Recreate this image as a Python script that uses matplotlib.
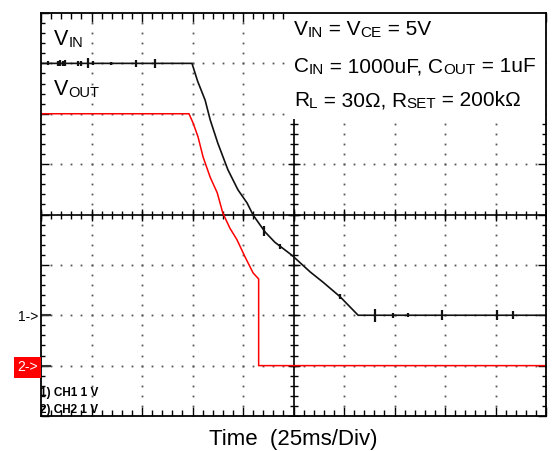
import numpy as np
import matplotlib
matplotlib.use('Agg')
import matplotlib.pyplot as plt
from matplotlib.patches import Rectangle

plt.rcParams['font.family'] = ['Liberation Sans', 'DejaVu Sans']

# 通道 1: VIN (1V/Div), 时间单位 = Div (25ms/Div)
vin_t = [0, 2.99, 3.10, 3.25, 3.35, 3.50, 3.70, 3.90, 4.08, 4.20, 4.34, 4.44,
         4.63, 4.97, 5.33, 5.58, 5.92, 6.28, 10]
vin_v = [5.0, 5.0, 4.65, 4.27, 3.88, 3.42, 2.89, 2.49, 2.23, 1.99, 1.79, 1.65,
         1.45, 1.19, 0.86, 0.66, 0.37, 0.0, 0.0]

# 通道 2: VOUT
vout_t = [0, 2.93, 3.01, 3.11, 3.21, 3.35, 3.49, 3.60, 3.74, 3.88, 4.04, 4.20,
          4.31, 4.31, 10]
vout_v = [5.0, 5.0, 4.82, 4.54, 4.14, 3.74, 3.43, 3.03, 2.73, 2.50, 2.16, 1.84,
          1.72, 0.0, 0.0]

# 毛刺 (时间, 半幅值 V)
vin_glitch_t = [0.14, 0.34, 0.38, 0.44, 0.48, 0.73, 0.79, 0.93, 1.03, 1.39, 1.88,
                2.26, 4.42, 4.73, 5.92, 6.61, 6.97, 7.27, 7.94, 9.03, 9.35]
vin_glitch_h = [0.04, 0.05, 0.06, 0.05, 0.06, 0.05, 0.05, 0.10, 0.04, 0.03, 0.07,
                0.09, 0.10, 0.05, 0.05, 0.13, 0.05, 0.04, 0.10, 0.10, 0.08]

ch1_offset = -2  # 1->
ch2_offset = -3  # 2->

W, H = 553, 451
fig = plt.figure(figsize=(W / 100, H / 100), dpi=100)
ax = fig.add_axes([41 / W, 35 / H, 505 / W, 403 / H])
ax.set_xlim(0, 10)
ax.set_ylim(-4, 4)

# 网格点
xdots = np.arange(0, 10.001, 0.2)
ydots = np.arange(-4, 4.001, 0.2)
for gx in range(1, 10):
    if gx == 5:
        continue
    ax.plot(np.full(len(ydots), gx), ydots, ls='none', marker='s', ms=1.3,
            mew=0, color='#555555')
for gy in range(-3, 4):
    if gy == 0:
        continue
    ax.plot(xdots, np.full(len(xdots), gy), ls='none', marker='s', ms=1.3,
            mew=0, color='#555555')

# 中心十字轴
ax.axhline(0, color='black', lw=1.2)
ax.axvline(5, color='black', lw=1.2)
ax.plot(xdots, np.zeros(len(xdots)), ls='none', marker='|', ms=6, mew=1.0, color='black')
ax.plot(np.arange(0, 11), np.zeros(11), ls='none', marker='|', ms=9, mew=1.0, color='black')
ax.plot(np.full(len(ydots), 5), ydots, ls='none', marker='_', ms=6, mew=1.0, color='black')
ax.plot(np.full(9, 5), np.arange(-4, 5), ls='none', marker='_', ms=9, mew=1.0, color='black')

# 参数文字的白底
ax.add_patch(Rectangle((4.86, 1.9), 5.2, 2.2, fc='white', ec='none', zorder=2.2))

# 通道参考标记
ax.plot([0, 0.2], [ch1_offset, ch1_offset], color='#333333', lw=1.5, solid_capstyle='butt')
ax.plot([0, 0.2], [ch2_offset, ch2_offset], color='#333333', lw=1.5, solid_capstyle='butt')

# 波形
ax.plot(vout_t, np.array(vout_v) + ch2_offset, color='#ff0000', lw=1.1)
ax.plot(vin_t, np.array(vin_v) + ch1_offset, color='#111111', lw=1.2)
base = np.interp(vin_glitch_t, vin_t, vin_v) + ch1_offset
ax.vlines(vin_glitch_t, base - np.array(vin_glitch_h), base + np.array(vin_glitch_h),
          color='#111111', lw=1.6)

# 边框刻度
ax.set_xticks(np.arange(0, 11, 1))
ax.set_xticks(np.arange(0, 10.001, 0.2), minor=True)
ax.set_yticks(np.arange(-4, 5, 1))
ax.set_yticks(np.arange(-4, 4.001, 0.2), minor=True)
ax.tick_params(which='both', direction='in', top=True, right=True,
               labelbottom=False, labelleft=False, width=1.0, color='black')
ax.tick_params(axis='x', which='major', length=6.5)
ax.tick_params(axis='x', which='minor', length=4.3)
ax.tick_params(axis='y', which='major', length=6)
ax.tick_params(axis='y', which='minor', length=3)
for s in ax.spines.values():
    s.set_linewidth(1.3)


def fig_text(x, y, s, **kw):
    return fig.text(x / W, 1 - y / H, s, **kw)


def rich(x, y, parts):
    r = fig.canvas.get_renderer()
    for s, size in parts:
        dy = 2 if size < 12 else 0
        t = fig_text(x, y + dy, s, fontsize=size, va='baseline', ha='left')
        x += t.get_window_extent(renderer=r).width


F, f = 15, 11
rich(54, 45, [('V', 15.5), ('IN', 10.5)])
rich(54, 95, [('V', 15.5), ('OUT', 10.5)])
rich(294, 35, [('V', F), ('IN', f), (' = V', F), ('CE', f), (' = 5V', F)])
rich(294, 72.5, [('C', F), ('IN', f), (' = 1000uF, C', F), ('OUT', f), (' = 1uF', F)])
rich(294, 106.5, [('R', F), ('L', f), (' = 30\u03a9, R', F), ('SET', f), (' = 200k\u03a9', F)])

fig_text(38, 321, '1->', fontsize=10, ha='right', va='baseline')
fig.patches.append(Rectangle((14 / W, 1 - 378 / H), 27 / W, 21 / H,
                             transform=fig.transFigure, fc='#ff0000', ec='none'))
fig_text(27.5, 371, '2->', fontsize=10, ha='center', va='baseline', color='white')

fig_text(40, 396, '1) CH1 1 V', fontsize=8.5, fontweight='bold', va='baseline')
fig_text(40, 413, '2) CH2 1 V', fontsize=8.5, fontweight='bold', va='baseline')

fig_text(293, 445, 'Time  (25ms/Div)', fontsize=16, ha='center', va='baseline')

fig.savefig('out.png', dpi=100)
